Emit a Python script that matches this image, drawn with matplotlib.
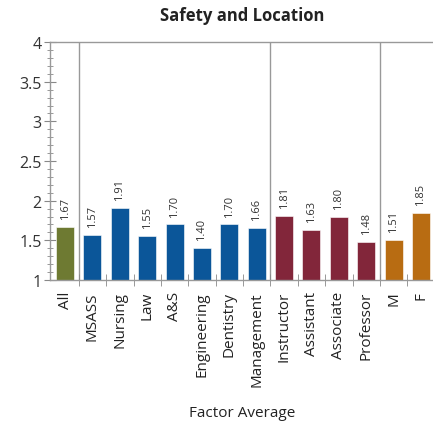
import numpy as np
import matplotlib
matplotlib.use('Agg')
import matplotlib.pyplot as plt
from matplotlib.ticker import MultipleLocator, FixedLocator, NullFormatter

plt.rcParams['font.family'] = ['Open Sans', 'DejaVu Sans']

categories = ['All', 'MSASS', 'Nursing', 'Law', 'A&S', 'Engineering', 'Dentistry',
              'Management', 'Instructor', 'Assistant', 'Associate', 'Professor', 'M', 'F']
values = [1.67, 1.57, 1.91, 1.55, 1.70, 1.40, 1.70, 1.66, 1.81, 1.63, 1.80, 1.48, 1.51, 1.85]
groups = ['all'] + ['school'] * 7 + ['rank'] * 4 + ['sex'] * 2

colors = {'all': '#6e7a32', 'school': '#0b5699', 'rank': '#82263a', 'sex': '#b86c12'}

fig = plt.figure(figsize=(4.33, 4.27), dpi=100)
ax = fig.add_axes([0.1155, 0.342, 0.8845, 0.557])

x = np.arange(len(categories))
ax.bar(x, values, width=0.66, color=[colors[g] for g in groups],
       edgecolor='white', linewidth=0.4, zorder=2)

for i, v in enumerate(values):
    ax.text(x[i], v + 0.1, '%.2f' % v, rotation=90, ha='center', va='bottom',
            fontsize=8, color='#333333')

# separators between groups
for s in [0.5, 7.5, 11.5]:
    ax.axvline(s, color='#999999', lw=1.0, zorder=1)

ax.set_ylim(1, 4)
ax.set_xlim(-0.55, len(categories) - 1 + 0.44)
ax.yaxis.set_minor_locator(MultipleLocator(0.1))
ax.set_yticks([1, 1.5, 2, 2.5, 3, 3.5, 4])
ax.set_yticklabels(['1', '1.5', '2', '2.5', '3', '3.5', '4'], fontsize=11.5, color='#333333')

ax.set_xticks(x)
ax.set_xticklabels(categories, rotation=90, fontsize=11, color='#222222')
ax.tick_params(axis='x', length=0, pad=8)
ax.xaxis.set_minor_locator(FixedLocator(np.arange(0.5, len(categories) - 1, 1.0)))
ax.xaxis.set_minor_formatter(NullFormatter())
ax.tick_params(axis='x', which='minor', direction='inout', length=8, color='#888888')
ax.tick_params(axis='y', which='major', direction='inout', length=8, color='#888888', pad=2)
ax.tick_params(axis='y', which='minor', direction='inout', length=4, color='#888888')

for side in ['left', 'bottom', 'top']:
    ax.spines[side].set_color('#999999')
    ax.spines[side].set_linewidth(1.0)
ax.spines['right'].set_visible(False)

fig.text(0.56, 0.963, 'Safety and Location', ha='center', va='center',
         fontsize=12, fontweight='bold', color='#222222')
fig.text(0.56, 0.032, 'Factor Average', ha='center', va='center', fontsize=11, color='#222222')

fig.savefig('out.png', dpi=100)
